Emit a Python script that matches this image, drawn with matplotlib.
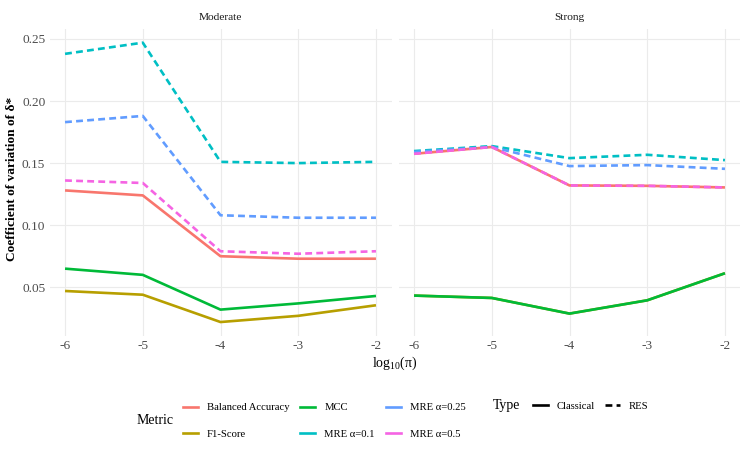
import matplotlib
matplotlib.use("Agg")
import matplotlib.pyplot as plt
from matplotlib.lines import Line2D

plt.rcParams['font.family'] = ['Liberation Serif', 'DejaVu Serif']
plt.rcParams['mathtext.fontset'] = 'custom'
plt.rcParams['mathtext.rm'] = 'Liberation Serif'
plt.rcParams['mathtext.it'] = 'Liberation Serif:italic'
plt.rcParams['mathtext.bf'] = 'Liberation Serif:bold'

x_vals = [-6, -5, -4, -3, -2]
panels = ["Moderate", "Strong"]
metrics = ["Balanced Accuracy", "F1-Score", "MCC", "MRE α=0.1", "MRE α=0.25", "MRE α=0.5"]
types = ["Classical", "Classical", "Classical", "RES", "RES", "RES"]
colors = ["#F8766D", "#B79F00", "#00BA38", "#00BFC4", "#619CFF", "#F564E3"]

moderate = {
    "Balanced Accuracy": [0.128, 0.124, 0.075, 0.073, 0.073],
    "F1-Score": [0.047, 0.044, 0.022, 0.027, 0.0355],
    "MCC": [0.065, 0.060, 0.032, 0.037, 0.043],
    "MRE α=0.1": [0.238, 0.247, 0.151, 0.150, 0.151],
    "MRE α=0.25": [0.183, 0.188, 0.108, 0.106, 0.106],
    "MRE α=0.5": [0.136, 0.134, 0.079, 0.077, 0.079],
}
strong = {
    "Balanced Accuracy": [0.1575, 0.163, 0.132, 0.1317, 0.1304],
    "F1-Score": [0.0433, 0.0414, 0.0288, 0.0395, 0.0613],
    "MCC": [0.0433, 0.0414, 0.0288, 0.0395, 0.0613],
    "MRE α=0.1": [0.1597, 0.1637, 0.154, 0.1567, 0.1524],
    "MRE α=0.25": [0.159, 0.163, 0.1476, 0.1484, 0.1454],
    "MRE α=0.5": [0.1575, 0.163, 0.132, 0.1317, 0.1304],
}
data = {"Moderate": moderate, "Strong": strong}

y_ticks = [0.05, 0.10, 0.15, 0.20, 0.25]
y_ticklabels = ["0.05", "0.10", "0.15", "0.20", "0.25"]

W, H = 747, 457
fig = plt.figure(figsize=(W / 100, H / 100), dpi=100)

lw = 1.9
dash = (2.6, 1.6)
grey_txt = "#4D4D4D"

ax_l = fig.add_axes([49.5 / W, 1 - 336 / H, 342 / W, 307.3 / H])
ax_r = fig.add_axes([398.5 / W, 1 - 336 / H, 342 / W, 307.3 / H], sharey=ax_l)

for ax, panel in zip([ax_l, ax_r], panels):
    d = data[panel]
    for m, t, c in zip(metrics, types, colors):
        if t == "RES":
            ax.plot(x_vals, d[m], color=c, lw=lw, linestyle=(0, dash), solid_capstyle='butt', dash_capstyle='butt')
        else:
            ax.plot(x_vals, d[m], color=c, lw=lw, solid_capstyle='butt')
    ax.margins(x=0.05, y=0.05)
    ax.set_xticks(x_vals)
    ax.set_xticklabels([str(v) for v in x_vals])
    ax.set_yticks(y_ticks)
    ax.set_yticklabels(y_ticklabels)
    ax.grid(True, color="#EBEBEB", lw=0.8)
    ax.set_axisbelow(True)
    for s in ax.spines.values():
        s.set_visible(False)
    ax.tick_params(length=0, labelsize=9.6, labelcolor=grey_txt, pad=3)
    ax.set_title(panel, fontsize=8.2, color="#1A1A1A", pad=6)

ax_r.tick_params(labelleft=False)

fig.text(12 / W, 1 - 179 / H, "Coefficient of variation of δ*", rotation=90,
         ha='center', va='center', fontsize=9.6, fontweight='bold')
fig.text(395 / W, 1 - 363 / H, r"log$_{10}$(π)", ha='center', va='center', fontsize=10)

# Legends
fig.text(137 / W, 1 - 420 / H, "Metric", ha='left', va='center', fontsize=10)
m_handles = [Line2D([], [], color=c, lw=lw) for c in colors]
leg1 = fig.legend(m_handles, metrics, loc='upper left', bbox_to_anchor=(183 / W, 1 - 403 / H),
                  ncol=3, frameon=False, fontsize=7.7, handlelength=1.4, handletextpad=0.85,
                  columnspacing=1.0, labelspacing=1.55, borderaxespad=0, borderpad=0)
fig.text(493 / W, 1 - 406 / H, "Type", ha='left', va='center', fontsize=10)
t_handles = [Line2D([], [], color="black", lw=lw),
             Line2D([], [], color="black", lw=lw, linestyle=(0, dash))]
leg2 = fig.legend(t_handles, ["Classical", "RES"], loc='center left',
                  bbox_to_anchor=(533 / W, 1 - 406 / H), ncol=2, frameon=False, fontsize=7.7,
                  handlelength=1.4, handletextpad=0.85, columnspacing=0.9,
                  borderaxespad=0, borderpad=0)

fig.savefig("out.png", dpi=100)
